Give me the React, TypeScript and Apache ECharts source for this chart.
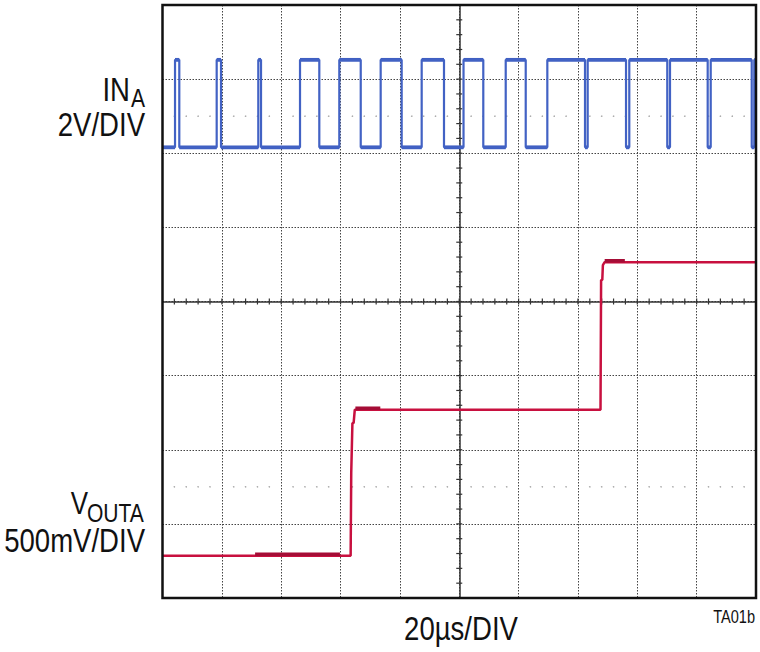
import React, { useEffect, useRef } from "react";
import * as echarts from "echarts";

// x in divisions (0..10, 20µs/DIV), y in divisions (-4..4, 0 = centre line)
const inEdges = [0.211, 0.283, 0.913, 0.986, 1.614, 1.66, 2.317, 2.642, 2.979, 3.34, 3.676, 4.03, 4.367, 4.743, 5.072, 5.405, 5.783, 6.12, 6.484, 7.119, 7.164, 7.81, 7.865, 8.505, 8.551, 9.186, 9.237, 9.928, 9.971];
const inLow = 2.08;
const inHigh = 3.26;

const voutX = [0, 3.17, 3.18, 3.2, 3.22, 3.24, 7.38, 7.39, 7.41, 7.42, 7.45, 10];
const voutY = [-3.43, -3.43, -2.31, -1.64, -1.64, -1.46, -1.46, 0.29, 0.29, 0.49, 0.53, 0.53];

// slightly heavier (overlapping) trace portions
const voutHeavyX0 = [1.56, 3.25, 7.45];
const voutHeavyX1 = [2.99, 3.67, 7.79];
const voutHeavyY = [-3.41, -1.44, 0.55];

const xDivs = 10;
const yDivs = 8;
const minorPerDiv = 5;

const FONT = "'Liberation Sans', Arial, sans-serif";
const SX = 0.81;

export default function App() {
  const ref = useRef<HTMLDivElement>(null);
  useEffect(() => {
    if (!ref.current) return;
    const chart = echarts.init(ref.current, undefined, { renderer: "svg" });

    const inData: number[][] = [[0, inLow]];
    const inFlat: number[][] = [];
    let level = inLow;
    let prevX = 0;
    inEdges.forEach((x) => {
      inData.push([x, level]);
      inFlat.push([prevX, x, level]);
      level = level === inLow ? inHigh : inLow;
      inData.push([x, level]);
      prevX = x;
    });
    inData.push([xDivs, level]);
    inFlat.push([prevX, xDivs, level]);

    const voutData = voutX.map((x, i) => [x, voutY[i]]);

    const ticks: number[][] = [];
    for (let k = 1; k < xDivs * minorPerDiv; k++) ticks.push([k / minorPerDiv, 0, 0]);
    for (let k = -yDivs / 2 * minorPerDiv + 1; k < (yDivs / 2) * minorPerDiv; k++) ticks.push([xDivs / 2, k / minorPerDiv, 1]);

    const dots: number[][] = [];
    for (let k = 1; k < xDivs * minorPerDiv; k++) {
      if (k % minorPerDiv === 0) continue;
      dots.push([k / minorPerDiv, 2.5]);
      dots.push([k / minorPerDiv, -2.5]);
    }

    const heavySeries = voutHeavyX0.map((x0, i) => ({
      type: "line",
      data: [[x0, voutHeavyY[i]], [voutHeavyX1[i], voutHeavyY[i]]],
      symbol: "none",
      lineStyle: { color: "#a50d36", width: 3.5 },
      z: 6,
      silent: true,
    }));

    const txt = (text: string, x: number, y: number, size: number, align: string) => ({
      type: "text",
      x,
      y,
      scaleX: SX,
      silent: true,
      style: { text, font: `${size}px ${FONT}`, fill: "#111", align, verticalAlign: "middle" },
    });

    chart.setOption({
      animation: false,
      grid: { left: 162.5, top: 5, right: 4, bottom: 54, show: false },
      xAxis: {
        type: "value",
        min: 0,
        max: xDivs,
        interval: 1,
        axisLine: { show: false },
        axisTick: { show: false },
        axisLabel: { show: false },
        splitLine: { show: true, lineStyle: { type: [1.5, 1.5], color: "#444", width: 1 } },
      },
      yAxis: {
        type: "value",
        min: -yDivs / 2,
        max: yDivs / 2,
        interval: 1,
        axisLine: { show: false },
        axisTick: { show: false },
        axisLabel: { show: false },
        splitLine: { show: true, lineStyle: { type: [1.5, 1.5], color: "#444", width: 1 } },
      },
      series: [
        {
          type: "scatter",
          data: dots,
          symbol: "circle",
          symbolSize: 1.6,
          itemStyle: { color: "#999" },
          silent: true,
          z: 1,
        },
        {
          type: "custom",
          data: ticks,
          silent: true,
          z: 3,
          renderItem: (params: any, api: any) => {
            const p = api.coord([api.value(0), api.value(1)]);
            const horiz = api.value(2) === 0;
            return {
              type: "line",
              shape: horiz
                ? { x1: p[0], y1: p[1] - 3, x2: p[0], y2: p[1] + 3 }
                : { x1: p[0] - 3, y1: p[1], x2: p[0] + 3, y2: p[1] },
              style: { stroke: "#333", lineWidth: 1.2 },
            };
          },
          markLine: {
            silent: true,
            symbol: "none",
            label: { show: false },
            lineStyle: { type: "solid", color: "#333", width: 1.5 },
            data: [{ xAxis: xDivs / 2 }, { yAxis: 0 }],
          },
        },
        {
          type: "line",
          data: inData,
          symbol: "none",
          lineStyle: { color: "#4262c4", width: 2.2 },
          z: 5,
          silent: true,
        },
        {
          type: "custom",
          data: inFlat,
          silent: true,
          z: 5,
          encode: { x: [0, 1], y: 2 },
          renderItem: (params: any, api: any) => {
            const a = api.coord([api.value(0), api.value(2)]);
            const b = api.coord([api.value(1), api.value(2)]);
            return {
              type: "line",
              shape: { x1: a[0], y1: a[1], x2: b[0], y2: b[1] },
              style: { stroke: "#3f5fc2", lineWidth: 3.8 },
            };
          },
        },
        {
          type: "line",
          data: voutData,
          symbol: "none",
          lineStyle: { color: "#c8103f", width: 2.5 },
          z: 5,
          silent: true,
        },
        ...heavySeries,
      ],
      graphic: [
        {
          type: "rect",
          shape: { x: 162.5, y: 5, width: 593.5, height: 593 },
          style: { fill: "none", stroke: "#111", lineWidth: 2.5 },
          z: 100,
          silent: true,
        },
        txt("IN", 130, 89, 34, "right"),
        txt("A", 131, 98, 26, "left"),
        txt("2V/DIV", 145, 124.5, 34, "right"),
        txt("V", 88, 503, 32, "right"),
        txt("OUTA", 87, 513, 26, "left"),
        txt("500mV/DIV", 145, 540.5, 34, "right"),
        {
          type: "text",
          x: 461,
          y: 628,
          scaleX: SX,
          silent: true,
          style: { text: "20µs/DIV", font: `34px ${FONT}`, fill: "#111", align: "center", verticalAlign: "middle" },
        },
        txt("TA01b", 755, 616, 18, "right"),
      ],
    });
    return () => chart.dispose();
  }, []);
  return <div ref={ref} style={{ position: "absolute", left: 0, top: 0, width: 760, height: 652 }} />;
}
